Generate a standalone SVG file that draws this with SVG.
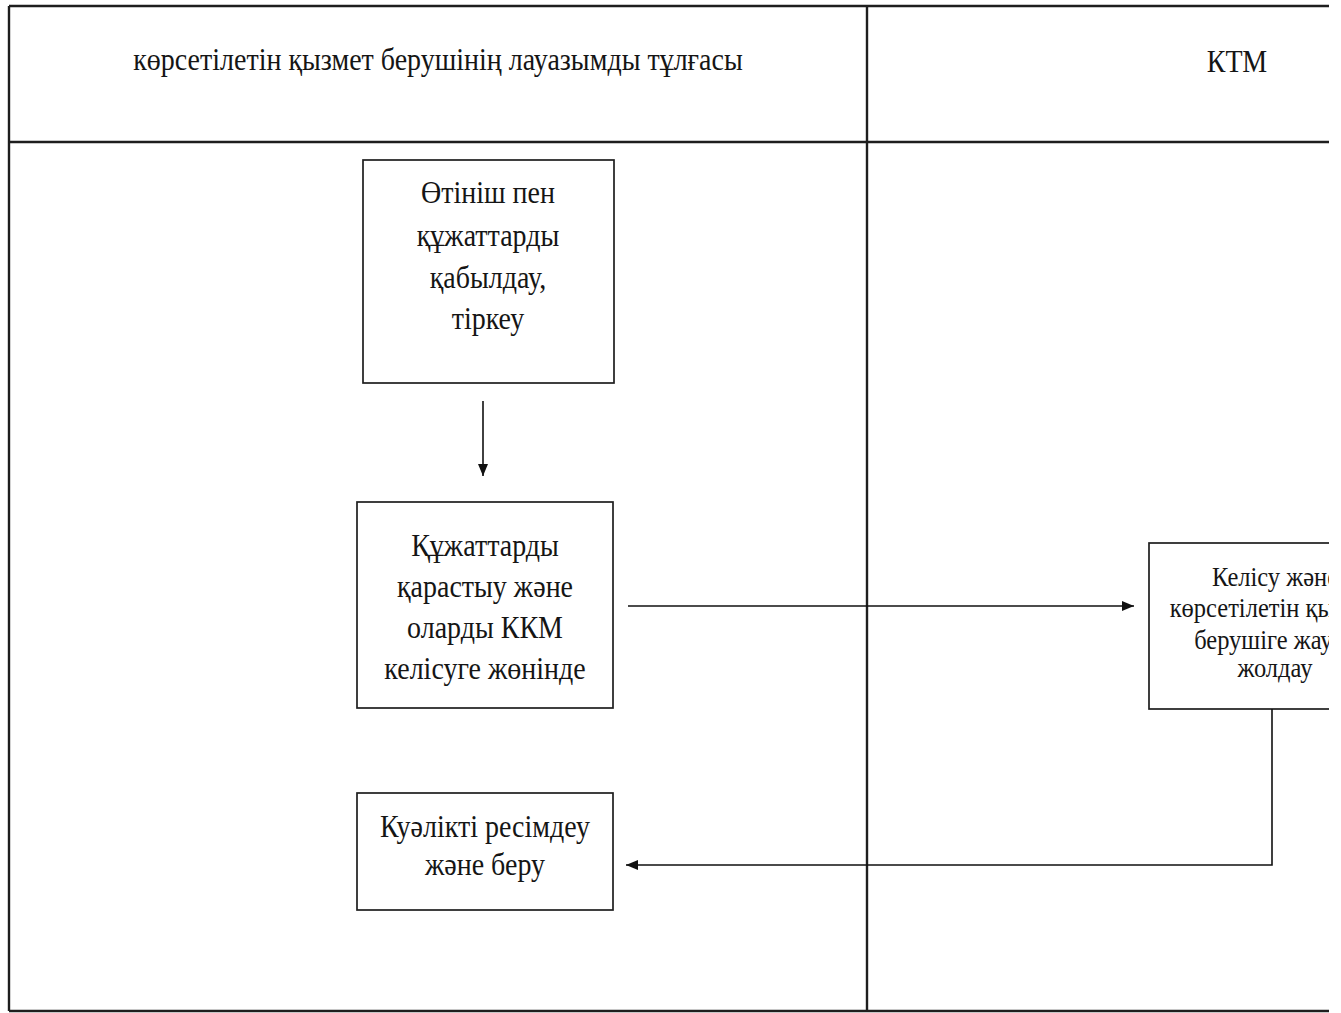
<svg xmlns="http://www.w3.org/2000/svg" width="1341" height="1013" viewBox="0 0 1341 1013">
<style>
.frame{fill:none;stroke:#1e1e1e;stroke-width:2.4}
.box{fill:#fff;stroke:#1e1e1e;stroke-width:1.7}
.conn{fill:none;stroke:#111;stroke-width:1.6}
text{font-family:"Liberation Serif","Times New Roman",serif;fill:#151515;text-anchor:middle}
.h{font-size:28px}
.t{font-size:28px}
.s{font-size:24.5px}
</style>
<defs>
<clipPath id="crop"><rect x="0" y="0" width="1329" height="1013"/></clipPath>
<marker id="ah" viewBox="0 0 12 10" refX="12" refY="5" markerWidth="12" markerHeight="10" markerUnits="userSpaceOnUse" orient="auto">
<path d="M0,0 L12,5 L0,10 z" fill="#111"/>
</marker>
</defs>
<rect width="1341" height="1013" fill="#fff"/>
<g clip-path="url(#crop)">
<g id="lanes">
<line class="frame" x1="9" y1="6" x2="1341" y2="6"/>
<line class="frame" x1="9" y1="142" x2="1341" y2="142"/>
<line class="frame" x1="9" y1="1011" x2="1341" y2="1011"/>
<line class="frame" x1="9" y1="6" x2="9" y2="1011"/>
<line class="frame" x1="867" y1="6" x2="867" y2="1011"/>
<text class="h" transform="translate(438,70) scale(1,1.1)">көрсетілетін қызмет берушінің  лауазымды тұлғасы</text>
<text class="h" transform="translate(1237,72) scale(1,1.1)">КТМ</text>
</g>
<g id="node1">
<rect class="box" x="363" y="160" width="251" height="223"/>
<text class="t" transform="translate(488,203) scale(1,1.1)">Өтініш пен</text>
<text class="t" transform="translate(488,246) scale(1,1.1)">құжаттарды</text>
<text class="t" transform="translate(488,288) scale(1,1.1)">қабылдау,</text>
<text class="t" transform="translate(488,329) scale(1,1.1)">тіркеу</text>
</g>
<g id="node2">
<rect class="box" x="357" y="502" width="256" height="206"/>
<text class="t" transform="translate(485,556) scale(1,1.1)">Құжаттарды</text>
<text class="t" transform="translate(485,597) scale(1,1.1)">қарастыу және</text>
<text class="t" transform="translate(485,638) scale(1,1.1)">оларды ККМ</text>
<text class="t" transform="translate(485,679) scale(1,1.1)">келісуге жөнінде</text>
</g>
<g id="node3">
<rect class="box" x="357" y="793" width="256" height="117"/>
<text class="t" transform="translate(485,837) scale(1,1.1)">Куәлікті ресімдеу</text>
<text class="t" transform="translate(485,875) scale(1,1.1)">және беру</text>
</g>
<g id="node4">
<rect class="box" x="1149" y="543" width="252" height="166"/>
<text class="s" transform="translate(1275,586) scale(1,1.1)">Келісу және</text>
<text class="s" transform="translate(1275,617) scale(1,1.1)">көрсетілетін қызмет</text>
<text class="s" transform="translate(1275,649) scale(1,1.1)">берушіге жауап</text>
<text class="s" transform="translate(1275,677) scale(1,1.1)">жолдау</text>
</g>
<g id="connectors">
<line class="conn" x1="483" y1="401" x2="483" y2="476" marker-end="url(#ah)"/>
<line class="conn" x1="628" y1="606" x2="1134" y2="606" marker-end="url(#ah)"/>
<polyline class="conn" points="1272,709 1272,865 626,865" marker-end="url(#ah)"/>
</g>
</g>
</svg>
